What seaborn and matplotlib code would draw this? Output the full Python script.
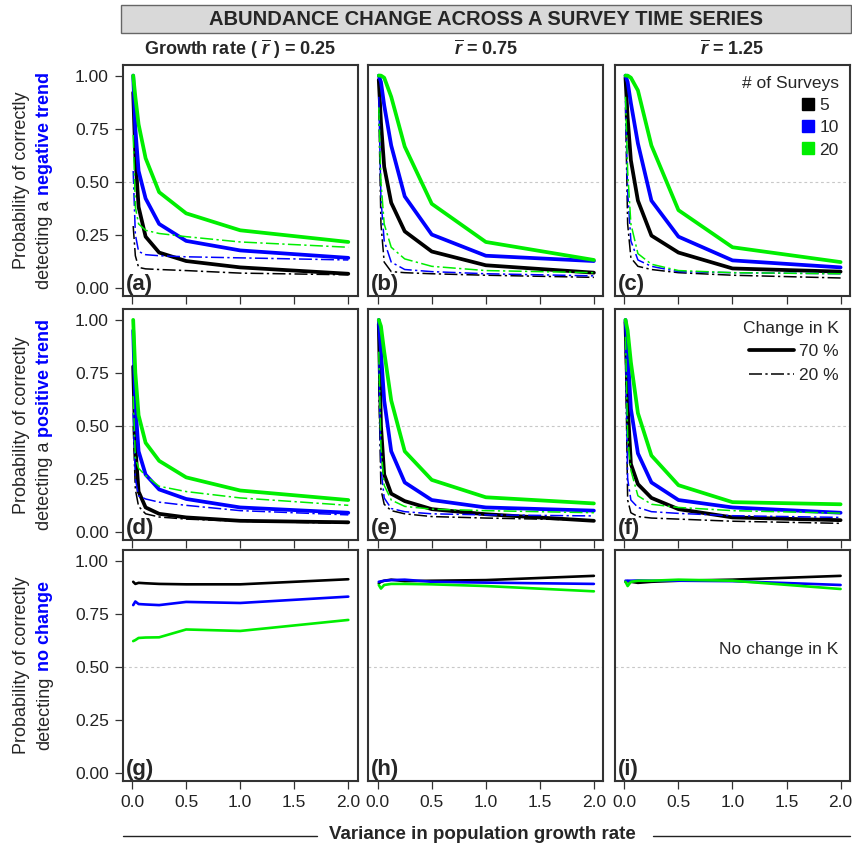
import numpy as np
import pandas as pd
import seaborn as sns
import matplotlib.pyplot as plt
from matplotlib.lines import Line2D
from matplotlib.patches import Rectangle
from matplotlib import font_manager

# ---------------------------------------------------------------------------
# data
# ---------------------------------------------------------------------------
variance = [0.01, 0.03, 0.06, 0.125, 0.25, 0.5, 1.0, 2.0]
surveys = ["5", "10", "20"]
k_change = ["70 %", "20 %"]

# (a) negative trend, r = 0.25
a70_s5 = [0.92, 0.62, 0.38, 0.24, 0.165, 0.125, 0.095, 0.065]
a70_s10 = [1.0, 0.75, 0.55, 0.42, 0.30, 0.22, 0.175, 0.14]
a70_s20 = [1.0, 0.9, 0.77, 0.61, 0.45, 0.35, 0.27, 0.215]
a20_s5 = [0.29, 0.15, 0.095, 0.088, 0.085, 0.08, 0.068, 0.06]
a20_s10 = [0.55, 0.25, 0.17, 0.155, 0.15, 0.145, 0.14, 0.13]
a20_s20 = [0.72, 0.38, 0.30, 0.27, 0.255, 0.24, 0.215, 0.19]
# (b) negative trend, r = 0.75
b70_s5 = [0.98, 0.78, 0.57, 0.40, 0.265, 0.17, 0.105, 0.07]
b70_s10 = [1.0, 0.97, 0.86, 0.67, 0.43, 0.25, 0.15, 0.125]
b70_s20 = [1.0, 1.0, 0.99, 0.90, 0.665, 0.395, 0.215, 0.13]
b20_s5 = [0.85, 0.3, 0.12, 0.075, 0.07, 0.065, 0.058, 0.048]
b20_s10 = [0.9, 0.42, 0.22, 0.12, 0.085, 0.075, 0.065, 0.055]
b20_s20 = [0.85, 0.5, 0.30, 0.19, 0.135, 0.10, 0.08, 0.07]
# (c) negative trend, r = 1.25
c70_s5 = [0.99, 0.8, 0.6, 0.41, 0.245, 0.165, 0.09, 0.075]
c70_s10 = [1.0, 0.97, 0.87, 0.68, 0.41, 0.24, 0.128, 0.095]
c70_s20 = [1.0, 1.0, 0.99, 0.93, 0.67, 0.365, 0.19, 0.12]
c20_s5 = [0.85, 0.3, 0.14, 0.1, 0.085, 0.07, 0.058, 0.045]
c20_s10 = [0.88, 0.45, 0.22, 0.13, 0.1, 0.075, 0.07, 0.065]
c20_s20 = [0.9, 0.55, 0.3, 0.16, 0.11, 0.08, 0.07, 0.065]
# (d) positive trend, r = 0.25
d70_s5 = [0.78, 0.4, 0.19, 0.115, 0.085, 0.068, 0.052, 0.045]
d70_s10 = [0.95, 0.6, 0.38, 0.27, 0.2, 0.155, 0.115, 0.09]
d70_s20 = [1.0, 0.75, 0.55, 0.42, 0.335, 0.257, 0.195, 0.15]
d20_s5 = [0.5, 0.2, 0.12, 0.085, 0.07, 0.06, 0.05, 0.04]
d20_s10 = [0.56, 0.25, 0.17, 0.155, 0.14, 0.125, 0.1, 0.08]
d20_s20 = [0.64, 0.35, 0.3, 0.265, 0.215, 0.19, 0.16, 0.125]
# (e) positive trend, r = 0.75
e70_s5 = [0.98, 0.5, 0.27, 0.18, 0.145, 0.107, 0.083, 0.052]
e70_s10 = [1.0, 0.85, 0.62, 0.38, 0.233, 0.15, 0.115, 0.1]
e70_s20 = [1.0, 0.97, 0.85, 0.62, 0.38, 0.245, 0.163, 0.134]
e20_s5 = [0.7, 0.2, 0.13, 0.1, 0.085, 0.072, 0.065, 0.055]
e20_s10 = [0.8, 0.3, 0.16, 0.11, 0.095, 0.085, 0.08, 0.075]
e20_s20 = [0.85, 0.4, 0.22, 0.15, 0.12, 0.107, 0.1, 0.09]
# (f) positive trend, r = 1.25
f70_s5 = [0.99, 0.6, 0.32, 0.225, 0.16, 0.107, 0.068, 0.055]
f70_s10 = [1.0, 0.85, 0.58, 0.37, 0.233, 0.15, 0.115, 0.09]
f70_s20 = [1.0, 0.95, 0.8, 0.56, 0.36, 0.22, 0.14, 0.13]
f20_s5 = [0.85, 0.15, 0.09, 0.072, 0.065, 0.06, 0.05, 0.04]
f20_s10 = [0.9, 0.25, 0.15, 0.115, 0.095, 0.087, 0.076, 0.068]
f20_s20 = [0.92, 0.45, 0.29, 0.17, 0.13, 0.115, 0.1, 0.088]
# (g)-(i) no change in K
g_s5 = [0.9, 0.89, 0.895, 0.893, 0.89, 0.888, 0.888, 0.912]
g_s10 = [0.79, 0.807, 0.795, 0.793, 0.79, 0.805, 0.80, 0.83]
g_s20 = [0.62, 0.625, 0.635, 0.637, 0.638, 0.675, 0.668, 0.72]
h_s5 = [0.893, 0.9, 0.905, 0.91, 0.903, 0.905, 0.908, 0.928]
h_s10 = [0.9, 0.902, 0.905, 0.908, 0.91, 0.9, 0.896, 0.89]
h_s20 = [0.885, 0.868, 0.885, 0.89, 0.89, 0.888, 0.88, 0.855]
i_s5 = [0.9, 0.903, 0.9, 0.895, 0.9, 0.905, 0.91, 0.928]
i_s10 = [0.905, 0.905, 0.905, 0.906, 0.905, 0.905, 0.903, 0.885]
i_s20 = [0.9, 0.88, 0.9, 0.905, 0.905, 0.91, 0.905, 0.866]

col_titles = [r"Growth rate ( $\overline{r}$ ) = 0.25", r"$\overline{r}$ = 0.75", r"$\overline{r}$ = 1.25"]
row_keys = ["negative trend", "positive trend", "no change"]
row_prefix = ["detecting a", "detecting a", "detecting"]

trend_series = {
    "a": [a70_s5, a70_s10, a70_s20, a20_s5, a20_s10, a20_s20],
    "b": [b70_s5, b70_s10, b70_s20, b20_s5, b20_s10, b20_s20],
    "c": [c70_s5, c70_s10, c70_s20, c20_s5, c20_s10, c20_s20],
    "d": [d70_s5, d70_s10, d70_s20, d20_s5, d20_s10, d20_s20],
    "e": [e70_s5, e70_s10, e70_s20, e20_s5, e20_s10, e20_s20],
    "f": [f70_s5, f70_s10, f70_s20, f20_s5, f20_s10, f20_s20],
}
flat_series = {
    "g": [g_s5, g_s10, g_s20],
    "h": [h_s5, h_s10, h_s20],
    "i": [i_s5, i_s10, i_s20],
}

recs = []
for p, lists in trend_series.items():
    for j, vals in enumerate(lists):
        for x, y in zip(variance, vals):
            recs.append((p, surveys[j % 3], k_change[j // 3], x, y))
for p, lists in flat_series.items():
    for j, vals in enumerate(lists):
        for x, y in zip(variance, vals):
            recs.append((p, surveys[j], "0 %", x, y))
df = pd.DataFrame(recs, columns=["panel", "surveys", "change", "variance", "prob"])

# ---------------------------------------------------------------------------
sns.set_style("ticks")
names = {f.name for f in font_manager.fontManager.ttflist}
narrow = "Liberation Sans Narrow" if "Liberation Sans Narrow" in names else "Liberation Sans"
plt.rcParams["font.family"] = ["Liberation Sans", "DejaVu Sans"]
plt.rcParams["mathtext.fontset"] = "custom"
plt.rcParams["mathtext.it"] = narrow + ":italic:bold"
plt.rcParams["mathtext.rm"] = narrow + ":bold"

pal = {"5": "#000000", "10": "#0000ff", "20": "#00ee00"}
dash_map = {"70 %": "", "20 %": (8.5, 2.2, 1.5, 2.2)}
size_map = {"70 %": 2.7, "20 %": 1.1}

W, H = 853, 847
fig = plt.figure(figsize=(W / 100, H / 100), dpi=100)
lefts = [122.7, 368.3, 615]
tops = [65, 309.3, 550]
aw, ah = 235, 231

letters = ["a", "b", "c", "d", "e", "f", "g", "h", "i"]
axes = {}
for r in range(3):
    for c in range(3):
        ax = fig.add_axes([lefts[c] / W, 1 - (tops[r] + ah) / H, aw / W, ah / H])
        p = letters[r * 3 + c]
        axes[p] = ax
        sub = df[df.panel == p]
        ax.axhline(0.5, color="#c8c8c8", ls=(0, (2.5, 2.5)), lw=0.8, zorder=0)
        if r < 2:
            sns.lineplot(data=sub, x="variance", y="prob", hue="surveys", hue_order=surveys,
                         style="change", style_order=k_change[::-1], dashes=dash_map,
                         size="change", size_order=k_change[::-1], sizes=size_map,
                         palette=pal, errorbar=None, legend=False, ax=ax)
        else:
            sns.lineplot(data=sub, x="variance", y="prob", hue="surveys", hue_order=surveys,
                         palette=pal, errorbar=None, legend=False, linewidth=1.9, ax=ax)
        ax.set_xlim(-0.087, 2.087)
        ax.set_ylim(-0.04, 1.05)
        ax.set_xlabel("")
        ax.set_ylabel("")
        ax.set_xticks([0, 0.5, 1.0, 1.5, 2.0])
        if r == 2:
            ax.set_xticklabels(["0.0", "0.5", "1.0", "1.5", "2.0"])
        else:
            ax.set_xticklabels([])
        if c == 0:
            ax.set_yticks([0, 0.25, 0.5, 0.75, 1.0])
            ax.set_yticklabels(["0.00", "0.25", "0.50", "0.75", "1.00"])
        else:
            ax.set_yticks([])
        ax.tick_params(direction="out", length=6, width=0.9, color="#333333",
                       labelsize=12.5, labelcolor="#222222", pad=4)
        for s in ax.spines.values():
            s.set_visible(True)
            s.set_linewidth(1.5)
            s.set_color("#333333")
        ax.text(0.012, 0.006, f"({p})", transform=ax.transAxes, ha="left", va="bottom",
                fontsize=16, fontweight="bold")

# legends
h_surv = [Line2D([], [], marker="s", ls="", color=pal[s], markersize=8) for s in surveys]
axes["c"].legend(h_surv, surveys, title="# of Surveys", loc="upper right", frameon=False,
                 fontsize=12.5, title_fontsize=12.5, alignment="right", handlelength=0.7,
                 handletextpad=0.3, labelspacing=0.4, borderaxespad=0.25)
h_k = [Line2D([], [], color="black", lw=2.7),
       Line2D([], [], color="black", lw=1.1, ls=(0, (8.5, 2.2, 1.5, 2.2)))]
axes["f"].legend(h_k, k_change, title="Change in K", loc="upper right", frameon=False,
                 fontsize=12.5, title_fontsize=12.5, alignment="right", handlelength=2.6,
                 handletextpad=0.3, labelspacing=0.5, borderaxespad=0.25)
axes["i"].text(1.98, 0.58, "No change in K", ha="right", va="center", fontsize=12.5)

# header band and column titles
fig.add_artist(Rectangle((121 / W, 1 - 33 / H), (851 - 121) / W, 28 / H, transform=fig.transFigure,
                         facecolor="#d9d9d9", edgecolor="#666666", lw=1.0))
fig.text((121 + 851) / 2 / W, 1 - 19.5 / H, "ABUNDANCE CHANGE ACROSS A SURVEY TIME SERIES",
         ha="center", va="center", fontsize=14.5, fontweight="bold", family=narrow)
for c in range(3):
    fig.text((lefts[c] + aw / 2) / W, 1 - 49 / H, col_titles[c], ha="center", va="center",
             fontsize=13, fontweight="bold", family=narrow)

# y labels with a blue keyword
renderer = fig.canvas.get_renderer()
for r in range(3):
    yc = 1 - (tops[r] + ah / 2) / H
    fig.text(22 / W, yc, "Probability of correctly", rotation=90, ha="center", va="center",
             fontsize=13)
    t1 = fig.text(45 / W, 0, row_prefix[r], rotation=90, ha="center", va="bottom", fontsize=13)
    t2 = fig.text(45 / W, 0, row_keys[r], rotation=90, ha="center", va="bottom", fontsize=13,
                  color="#0000ff", fontweight="bold")
    h1 = t1.get_window_extent(renderer).height / H
    h2 = t2.get_window_extent(renderer).height / H
    gap = 5 / H
    y0 = yc - (h1 + gap + h2) / 2
    t1.set_y(y0)
    t2.set_y(y0 + h1 + gap)

# bottom axis title flanked by rules
xt = fig.text(482 / W, 1 - 834 / H, "Variance in population growth rate", ha="center", va="center",
              fontsize=13.5, fontweight="bold")
bb = xt.get_window_extent(renderer)
yl = 1 - 836 / H
fig.add_artist(Line2D([123 / W, (bb.x0 - 12) / W], [yl, yl], color="#222222", lw=1.0))
fig.add_artist(Line2D([(bb.x1 + 18) / W, 850 / W], [yl, yl], color="#222222", lw=1.0))

fig.savefig("out.png", dpi=100)
